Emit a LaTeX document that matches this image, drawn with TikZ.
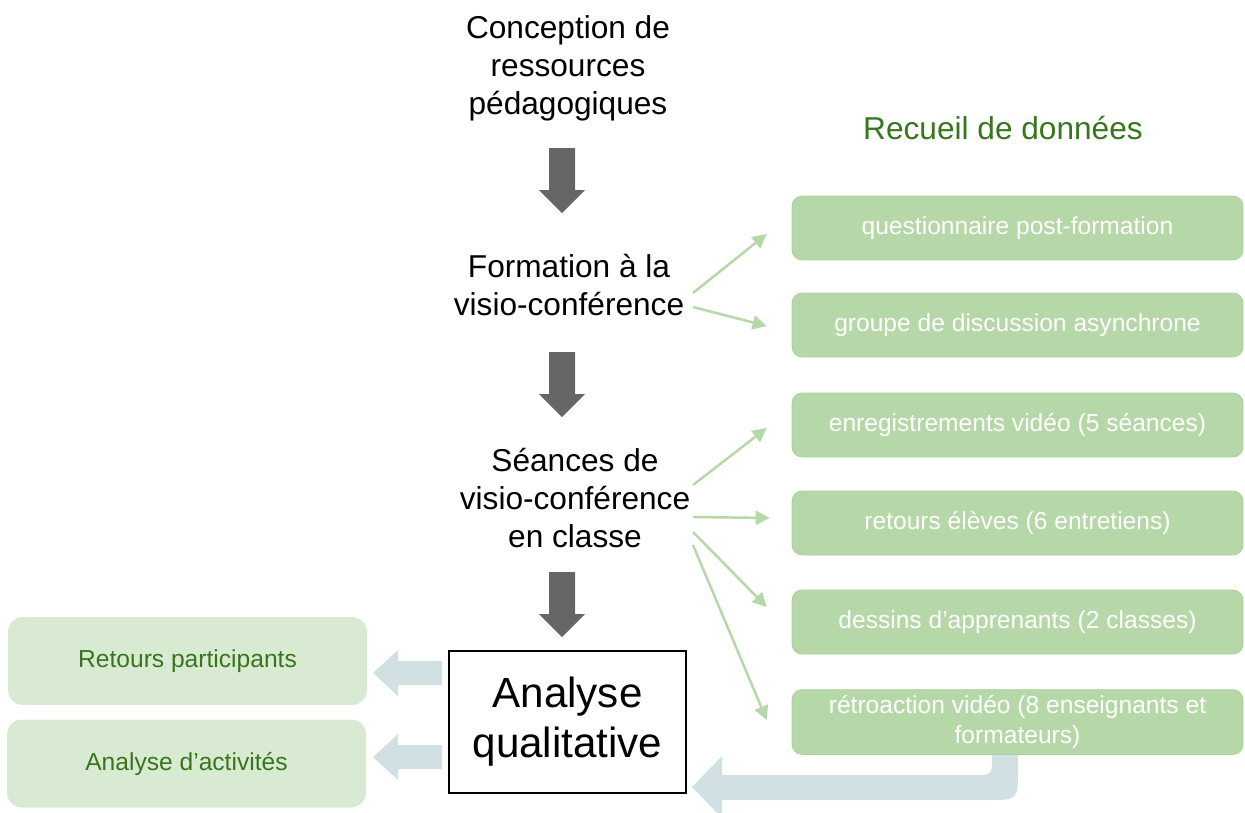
\documentclass[tikz,border=0pt]{standalone}
\usepackage{fontspec}
\setmainfont{Liberation Sans}
\usetikzlibrary{arrows.meta}

\definecolor{hellgruen}{HTML}{B6D7A8}
\definecolor{gruenrand}{HTML}{A8CF98}
\definecolor{blassgruen}{HTML}{D9EAD3}
\definecolor{dunkelgruen}{HTML}{38761D}
\definecolor{grau}{HTML}{666666}
\definecolor{blaugrau}{HTML}{D0E0E3}

\tikzset{
	etape/.style={align=center, font=\fontsize{18}{21.6}\selectfont},
	recueil/.style={rounded corners=0.2cm, fill=hellgruen, draw=gruenrand, line width=0.4pt,
		text=white, align=center, minimum width=9.02cm, minimum height=1.28cm,
		font=\fontsize{14}{17}\selectfont},
	resultat/.style={rounded corners=0.3cm, fill=blassgruen, text=dunkelgruen, align=center,
		minimum width=7.18cm, minimum height=1.76cm, font=\fontsize{14}{17}\selectfont},
	fleche/.style={draw=hellgruen, line width=1.4pt, -{Triangle[length=8pt,width=8pt]}},
	bloc/.style={fill=grau},
	retour/.style={fill=blaugrau}
}

\begin{document}
\begin{tikzpicture}[x=0.02cm, y=-0.02cm]
	\useasboundingbox (0,0) rectangle (1245,812);
	% Etapes
	\node[etape] (concept) at (568,68) {Conception de\\ressources\\pédagogiques};
	\node[etape] (form) at (569,285) {Formation à la\\visio-conférence};
	\node[etape] (seance) at (575,498) {Séances de\\visio-conférence\\en classe};
	\node[draw, line width=0.8pt, align=center, minimum width=4.74cm, minimum height=2.84cm,
		font=\fontsize{24}{28.5}\selectfont] (analyse) at (567.5,722) {Analyse\\qualitative};
	% Fleches vers le bas
	\foreach \y in {148,352,572}
		\fill[bloc] (549,\y) -- ++(26,0) -- ++(0,42) -- ++(10,0) -- ++(-23,23) -- ++(-23,-23) -- ++(10,0) -- cycle;
	% Recueil de donnees
	\node[text=dunkelgruen, font=\fontsize{18}{21.6}\selectfont] (titre) at (1003,128) {Recueil de données};
	\node[recueil] (q1) at (1017.5,228) {questionnaire post-formation};
	\node[recueil] (q2) at (1017.5,325) {groupe de discussion asynchrone};
	\node[recueil] (q3) at (1017.5,425) {enregistrements vidéo (5 séances)};
	\node[recueil] (q4) at (1017.5,523) {retours élèves (6 entretiens)};
	\node[recueil] (q5) at (1017.5,622) {dessins d’apprenants (2 classes)};
	\node[recueil] (q6) at (1017.5,722) {rétroaction vidéo (8 enseignants et\\formateurs)};
	% Fleches vertes
	\draw[fleche] ([shift={(124,8)}]form.center) -- ([shift={(-25,6)}]q1.west);
	\draw[fleche] ([shift={(124,22)}]form.center) -- ([shift={(-25,1)}]q2.west);
	\draw[fleche] ([shift={(118,-13)}]seance.center) -- ([shift={(-25,3)}]q3.west);
	\draw[fleche] ([shift={(118,19)}]seance.center) -- ([shift={(-22,-5)}]q4.west);
	\draw[fleche] ([shift={(118,34)}]seance.center) -- ([shift={(-25,-15)}]q5.west);
	\draw[fleche] ([shift={(118,47)}]seance.center) -- ([shift={(-25,-2)}]q6.west);
	% Resultats
	\node[resultat] (r1) at (187.5,661) {Retours participants};
	\node[resultat] (r2) at (186.5,763.5) {Analyse d’activités};
	\foreach \y in {673,757}
		\fill[retour] (442,\y-12) -- (398,\y-12) -- (398,\y-23) -- (373,\y) -- (398,\y+23) -- (398,\y+12) -- (442,\y+12) -- cycle;
	% Retour courbe
	\fill[retour] (992,755) -- (1018,755) -- (1018,770) .. controls (1018,800) .. (988,800)
		-- (722,800) -- (722,818) -- (692,787) -- (722,756) -- (722,775) -- (975,775)
		.. controls (992,775) .. (992,758) -- cycle;
\end{tikzpicture}
\end{document}
